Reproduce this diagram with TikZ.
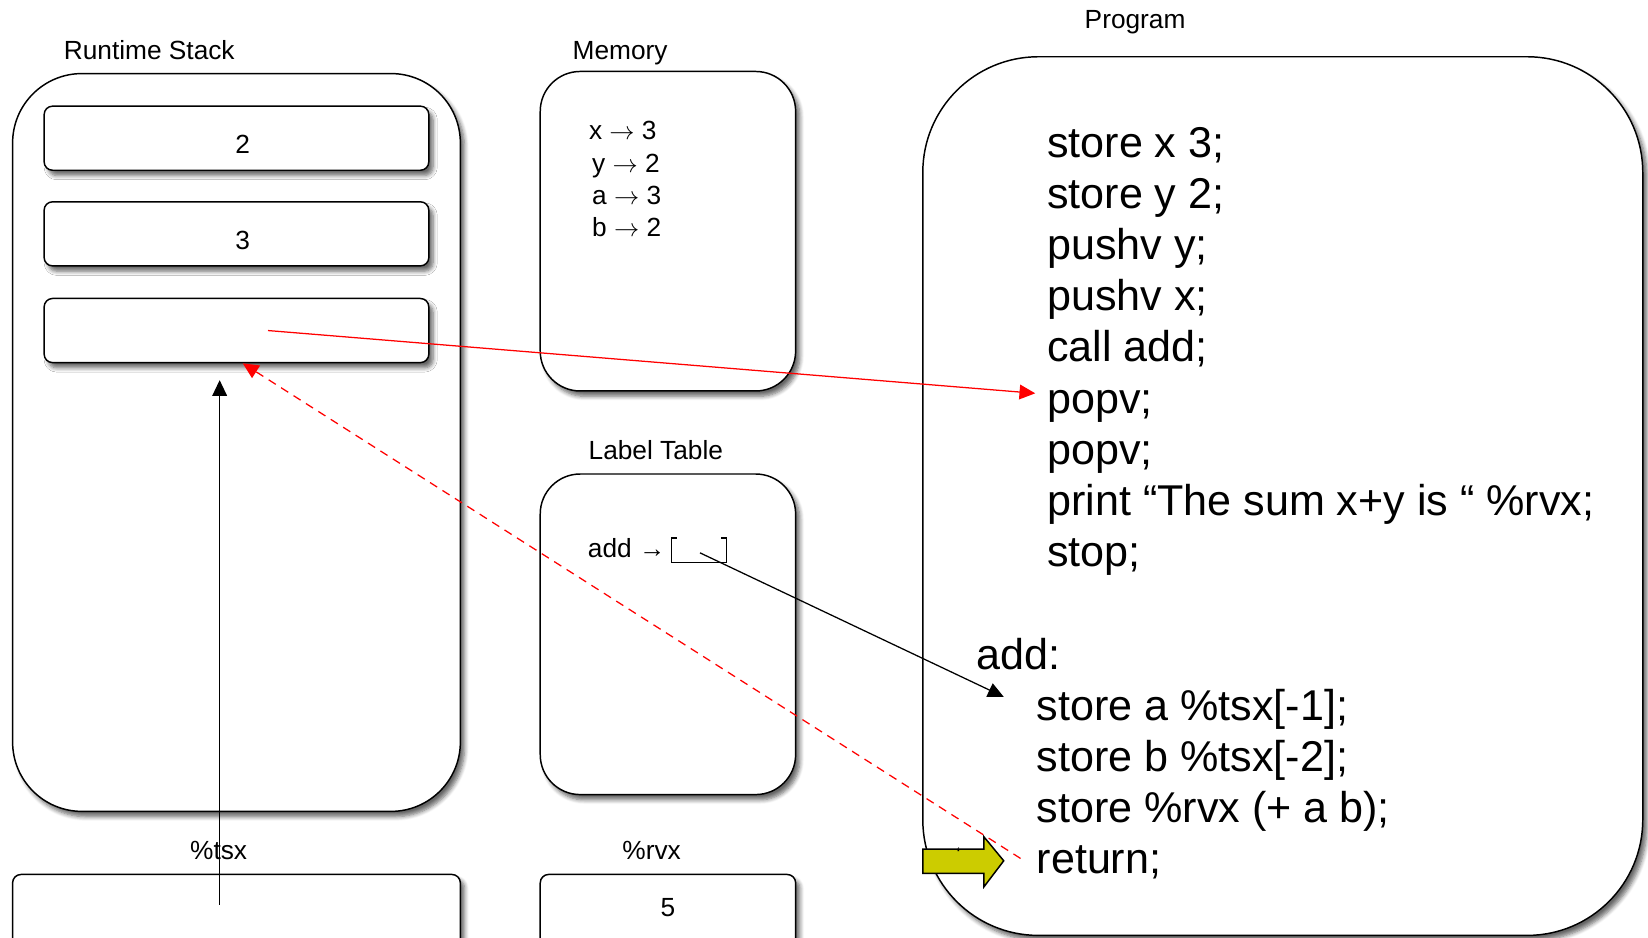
\documentclass[tikz,border=0pt]{standalone}
\usepackage{fontspec}
\setmainfont{Liberation Sans}
\usepackage{tikz}
\usetikzlibrary{arrows.meta,shadows.blur}

\definecolor{markyellow}{RGB}{204,204,0}

\begin{document}
\begin{tikzpicture}[x=0.5pt,y=-0.5pt,
    >={Triangle[length=7.5pt,width=7pt]},
    box/.style={draw, line width=0.7pt, fill=white, rounded corners=#1,
      blur shadow={shadow xshift=2pt, shadow yshift=-2.5pt, shadow blur steps=6,
        shadow blur radius=2pt, shadow opacity=60}},
    cell/.style={box=4pt, minimum width=183pt, minimum height=30.5pt,
      font=\fontsize{12.5}{15}\selectfont, text height=15pt, text depth=0pt,
      execute at begin node=\hspace*{6pt}},
    title/.style={anchor=base, font=\fontsize{12.5}{15}\selectfont},
    entry/.style={anchor=base west, inner sep=0pt, font=\fontsize{12.5}{15}\selectfont},
    code/.style={anchor=base west, inner sep=0pt, font=\fontsize{20.5}{24}\selectfont},
    ptr/.style={->, line width=0.6pt}]
   \useasboundingbox (0,0) rectangle (1568,892);
   \clip (0,0) rectangle (1568,892);

   % runtime stack
   \node[title] (stacklbl) at (142,57) {Runtime Stack};
   \node[box=33pt, minimum width=213pt, minimum height=351pt] (stack) at (225,421) {};
   \node[cell] (cell1) at (225,131.5) {2};
   \node[cell] (cell2) at (225,222.5) {3};
   \node[cell] (cell3) at (225,314.5) {};

   % memory
   \node[title] (memlbl) at (590,57) {Memory};
   \node[box=19pt, minimum width=121.5pt, minimum height=152pt] (mem) at (635.5,220) {};
   \node[entry] (memx) at (560,133)   {x $\rightarrow$ 3};
   \node[entry] (memy) at (563,163.7) {y $\rightarrow$ 2};
   \node[entry] (mema) at (563,194.4) {a $\rightarrow$ 3};
   \node[entry] (memb) at (563,225)   {b $\rightarrow$ 2};

   % label table
   \node[title] (tbllbl) at (624,437) {Label Table};
   \node[box=19pt, minimum width=121.5pt, minimum height=152.5pt] (tbl) at (635.5,603.5) {};
   \node[entry] (addentry) at (559,530) {add \textbf{→}};
   \draw[line width=0.6pt] (644,512) -- (639,512) -- (639,535) -- (691,535) -- (691,512) -- (686,512);
   \coordinate (addslot) at (666,526);

   % registers
   \node[title] (tsxlbl) at (208,818) {\%tsx};
   \node[box=4pt, minimum width=213pt, minimum height=40pt] (tsx) at (225,872) {};
   \node[title] (rvxlbl) at (620,818) {\%rvx};
   \node[box=4pt, minimum width=121.5pt, minimum height=40pt,
         font=\fontsize{12.5}{15}\selectfont, text height=9pt, text depth=9pt] (rvx) at (635.5,872) {5};

   % program
   \node[title] (proglbl) at (1080,27) {Program};
   \node[box=55pt, minimum width=342.5pt, minimum height=418pt] (prog) at (1220.5,472) {};
   \node[code] (storex)   at (996,150)   {store x 3;};
   \node[code] (storey)   at (996,198.6) {store y 2;};
   \node[code] (pushy)    at (996,247.2) {pushv y;};
   \node[code] (pushx)    at (996,295.8) {pushv x;};
   \node[code] (calladd)  at (996,344.4) {call add;};
   \node[code] (popa)     at (996,393)   {popv;};
   \node[code] (popb)     at (996,441.6) {popv;};
   \node[code] (printsum) at (996,490.2) {print “The sum x+y is “ \%rvx;};
   \node[code] (stopit)   at (996,538.8) {stop;};
   \node[code] (addlbl)   at (929,637)   {add:};
   \node[code] (storea)   at (986,685.6) {store a \%tsx[-1];};
   \node[code] (storeb)   at (986,734.2) {store b \%tsx[-2];};
   \node[code] (storervx) at (986,782.8) {store \%rvx (+ a b);};
   \node[code] (ret)      at (986,831.4) {return;};

   % current instruction
   \draw[line width=0.7pt, fill=markyellow] (878,808) -- (936,808) -- (936,796) -- (955,819)
        -- (936,844) -- (936,831) -- (878,831) -- cycle;
   \node[inner sep=0pt, font=\fontsize{8}{8}\selectfont] (tick) at (912,812) {\symbol{96}};

   % pointers
   \draw[ptr, red] ([xshift=15pt]cell3.center) -- ([shift={(-5.5pt,6pt)}]popa.west);
   \draw[ptr, red, dash pattern=on 4pt off 3pt] ([shift={(-7.5pt,2pt)}]ret.west) -- ([xshift=3pt]cell3.south);
   \draw[ptr] ([shift={(-8pt,5.5pt)}]tsx.center) -- ([shift={(-8pt,-8pt)}]cell3.south);
   \draw[ptr] (addslot) -- ([shift={(-15.5pt,6pt)}]storea.west);
\end{tikzpicture}
\end{document}
